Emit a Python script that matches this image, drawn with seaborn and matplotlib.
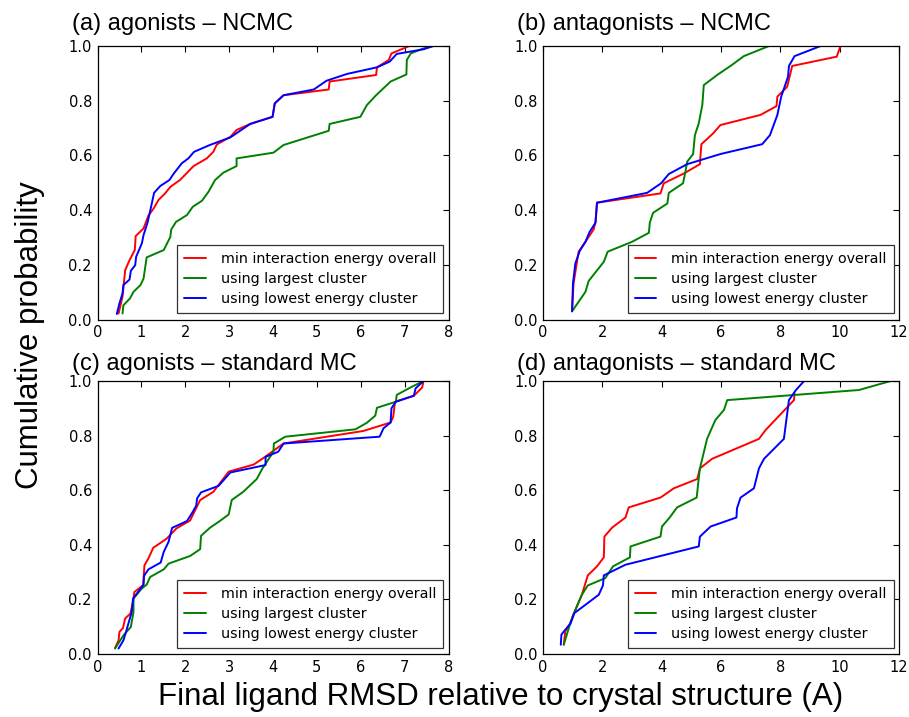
import numpy as np
import pandas as pd
import matplotlib
matplotlib.use("Agg")
import matplotlib.pyplot as plt
import seaborn as sns

# ---------------- data ----------------
series_labels = ["min interaction energy overall", "using largest cluster", "using lowest energy cluster"]
series_colors = ["#ff0000", "#008000", "#0000ff"]

panel_titles = ["(a) agonists \u2013 NCMC", "(b) antagonists \u2013 NCMC",
                "(c) agonists \u2013 standard MC", "(d) antagonists \u2013 standard MC"]
xlims = [8, 12, 8, 12]
x_ticks_small = [0, 1, 2, 3, 4, 5, 6, 7, 8]
x_ticks_large = [0, 2, 4, 6, 8, 10, 12]
y_ticks = [0.0, 0.2, 0.4, 0.6, 0.8, 1.0]

# (a) agonists - NCMC
a_min_x = [0.48, 0.57, 0.63, 0.73, 0.85, 0.87, 1.05, 1.16, 1.28, 1.39, 1.54, 1.66, 1.88, 2.19, 2.49, 2.64, 2.72, 3.03, 3.17, 3.48, 3.99, 4.04, 4.24, 5.27, 5.29, 6.35, 6.37, 6.64, 6.70, 7.11]
a_min_y = [0.022, 0.083, 0.18, 0.217, 0.254, 0.305, 0.333, 0.38, 0.406, 0.437, 0.461, 0.485, 0.51, 0.561, 0.589, 0.613, 0.64, 0.668, 0.693, 0.715, 0.741, 0.79, 0.82, 0.841, 0.87, 0.894, 0.922, 0.949, 0.973, 1.0]
a_big_x = [0.57, 0.59, 0.74, 0.82, 0.98, 1.05, 1.12, 1.51, 1.66, 1.68, 1.79, 2.04, 2.17, 2.38, 2.53, 2.68, 2.87, 3.17, 3.17, 4.01, 4.24, 5.27, 5.29, 5.99, 6.14, 6.35, 6.68, 7.04, 7.05, 7.14, 7.43, 7.62]
a_big_y = [0.022, 0.052, 0.077, 0.101, 0.126, 0.15, 0.227, 0.254, 0.302, 0.329, 0.357, 0.382, 0.412, 0.434, 0.467, 0.51, 0.537, 0.561, 0.589, 0.61, 0.638, 0.69, 0.715, 0.741, 0.784, 0.82, 0.87, 0.896, 0.949, 0.973, 0.991, 1.0]
a_low_x = [0.44, 0.50, 0.57, 0.59, 0.73, 0.76, 0.86, 0.88, 1.01, 1.05, 1.14, 1.18, 1.29, 1.43, 1.64, 1.74, 1.92, 2.07, 2.20, 2.56, 3.03, 3.48, 3.99, 4.04, 4.24, 4.93, 5.22, 5.69, 6.37, 6.66, 6.82, 7.43, 7.66]
a_low_y = [0.02, 0.059, 0.095, 0.126, 0.146, 0.178, 0.199, 0.229, 0.278, 0.309, 0.354, 0.382, 0.463, 0.488, 0.51, 0.534, 0.571, 0.589, 0.613, 0.638, 0.666, 0.715, 0.741, 0.79, 0.82, 0.841, 0.873, 0.898, 0.922, 0.943, 0.971, 0.988, 1.0]

# (b) antagonists - NCMC
b_min_x = [0.98, 1.03, 1.20, 1.43, 1.71, 1.77, 1.82, 3.96, 4.07, 4.75, 5.29, 5.31, 5.34, 5.73, 5.98, 7.33, 7.87, 7.90, 8.23, 8.40, 9.90, 10.03]
b_min_y = [0.03, 0.132, 0.248, 0.284, 0.33, 0.357, 0.427, 0.461, 0.498, 0.534, 0.568, 0.601, 0.641, 0.68, 0.711, 0.748, 0.78, 0.815, 0.851, 0.927, 0.961, 1.0]
b_big_x = [0.98, 1.43, 1.54, 2.05, 2.18, 3.00, 3.57, 3.60, 3.71, 4.19, 4.24, 4.72, 4.80, 4.86, 5.06, 5.12, 5.25, 5.37, 5.42, 5.87, 6.32, 6.77, 7.62]
b_big_y = [0.03, 0.101, 0.141, 0.211, 0.248, 0.284, 0.317, 0.354, 0.39, 0.424, 0.463, 0.498, 0.54, 0.577, 0.605, 0.674, 0.717, 0.784, 0.857, 0.894, 0.927, 0.963, 1.0]
b_low_x = [0.98, 1.01, 1.09, 1.24, 1.43, 1.57, 1.77, 1.82, 3.51, 3.98, 4.24, 4.86, 5.98, 7.39, 7.65, 7.90, 8.03, 8.26, 8.29, 8.48, 9.36]
b_low_y = [0.03, 0.132, 0.205, 0.251, 0.284, 0.32, 0.354, 0.427, 0.463, 0.498, 0.532, 0.568, 0.605, 0.641, 0.674, 0.748, 0.815, 0.888, 0.927, 0.963, 1.0]

# (c) agonists - standard MC
c_min_x = [0.40, 0.48, 0.50, 0.58, 0.63, 0.75, 0.81, 0.84, 1.04, 1.07, 1.16, 1.27, 1.58, 1.80, 2.11, 2.34, 2.64, 2.99, 3.56, 3.79, 4.24, 6.06, 6.68, 6.74, 6.78, 7.21, 7.40, 7.43]
c_min_y = [0.022, 0.05, 0.081, 0.095, 0.13, 0.148, 0.191, 0.227, 0.252, 0.325, 0.35, 0.389, 0.423, 0.46, 0.489, 0.564, 0.594, 0.668, 0.694, 0.719, 0.771, 0.817, 0.848, 0.869, 0.924, 0.946, 0.976, 1.0]
c_big_x = [0.40, 0.59, 0.76, 0.82, 0.82, 1.01, 1.12, 1.20, 1.51, 1.62, 2.11, 2.34, 2.36, 2.56, 2.76, 2.99, 3.06, 3.32, 3.63, 3.75, 4.01, 4.02, 4.28, 5.88, 6.14, 6.33, 6.37, 6.80, 6.82, 7.13, 7.43]
c_big_y = [0.02, 0.068, 0.099, 0.154, 0.203, 0.24, 0.254, 0.282, 0.31, 0.331, 0.359, 0.384, 0.433, 0.462, 0.484, 0.511, 0.564, 0.594, 0.641, 0.677, 0.741, 0.771, 0.796, 0.823, 0.847, 0.873, 0.902, 0.924, 0.949, 0.976, 1.0]
c_low_x = [0.48, 0.59, 0.65, 0.78, 0.81, 1.05, 1.06, 1.16, 1.44, 1.51, 1.62, 1.70, 2.04, 2.15, 2.25, 2.27, 2.36, 2.76, 3.03, 3.83, 3.83, 4.12, 4.24, 6.43, 6.52, 6.68, 6.70, 6.80, 7.21, 7.25, 7.43]
c_low_y = [0.02, 0.05, 0.081, 0.154, 0.203, 0.254, 0.286, 0.31, 0.335, 0.374, 0.411, 0.462, 0.487, 0.515, 0.543, 0.57, 0.592, 0.616, 0.665, 0.692, 0.722, 0.741, 0.771, 0.796, 0.827, 0.848, 0.9, 0.924, 0.946, 0.973, 1.0]

# (d) antagonists - standard MC
d_min_x = [0.70, 0.75, 0.92, 1.03, 1.31, 1.51, 1.82, 2.05, 2.07, 2.33, 2.78, 2.89, 3.96, 4.41, 5.20, 5.29, 5.70, 7.28, 7.50, 8.46, 8.48]
d_min_y = [0.034, 0.083, 0.113, 0.146, 0.217, 0.288, 0.321, 0.354, 0.43, 0.463, 0.5, 0.537, 0.573, 0.607, 0.641, 0.68, 0.715, 0.788, 0.82, 0.93, 0.955]
d_big_x = [0.70, 0.92, 1.03, 1.31, 1.51, 2.10, 2.36, 2.93, 2.95, 3.96, 4.01, 4.27, 4.52, 5.18, 5.25, 5.29, 5.53, 5.81, 6.10, 6.21, 10.65, 11.72]
d_big_y = [0.034, 0.113, 0.146, 0.217, 0.251, 0.278, 0.321, 0.354, 0.394, 0.43, 0.467, 0.5, 0.537, 0.573, 0.644, 0.68, 0.788, 0.857, 0.894, 0.93, 0.967, 1.0]
d_low_x = [0.60, 0.62, 0.72, 0.92, 1.06, 1.88, 2.02, 2.05, 2.78, 5.25, 5.29, 5.65, 6.52, 6.54, 6.66, 7.11, 7.28, 7.45, 8.12, 8.29, 8.52, 8.80]
d_low_y = [0.034, 0.071, 0.085, 0.11, 0.15, 0.217, 0.251, 0.288, 0.327, 0.394, 0.43, 0.467, 0.5, 0.534, 0.573, 0.607, 0.68, 0.715, 0.788, 0.93, 0.966, 1.0]

panels = [
    [(a_min_x, a_min_y), (a_big_x, a_big_y), (a_low_x, a_low_y)],
    [(b_min_x, b_min_y), (b_big_x, b_big_y), (b_low_x, b_low_y)],
    [(c_min_x, c_min_y), (c_big_x, c_big_y), (c_low_x, c_low_y)],
    [(d_min_x, d_min_y), (d_big_x, d_big_y), (d_low_x, d_low_y)],
]

# ---------------- style ----------------
sns.set_style("white")
plt.rcParams.update({
    "font.family": ["DejaVu Sans"],
    "text.color": "black", "axes.labelcolor": "black",
    "xtick.direction": "in", "ytick.direction": "in",
    "xtick.top": True, "ytick.right": True,
    "xtick.major.size": 4.5, "ytick.major.size": 4.5,
    "xtick.major.width": 0.8, "ytick.major.width": 0.8,
    "xtick.color": "black", "ytick.color": "black",
    "xtick.labelcolor": "black", "ytick.labelcolor": "black",
    "xtick.labelsize": 10.5, "ytick.labelsize": 10.5,
    "xtick.major.pad": 4, "ytick.major.pad": 4,
    "axes.edgecolor": "black", "axes.linewidth": 0.9,
})

W, H = 909, 717
fig = plt.figure(figsize=(W / 100, H / 100), dpi=100)

ax_px = [  # left, top, right, bottom in pixels
    (97.5, 46, 448.5, 319.5),
    (543, 46, 899, 319.5),
    (97.5, 381, 448.5, 654),
    (543, 381, 899, 654),
]
title_px = [(72, 30), (517, 30), (72, 370), (517, 370)]

for i in range(4):
    l, t, r, b = ax_px[i]
    ax = fig.add_axes([l / W, 1 - b / H, (r - l) / W, (b - t) / H])
    for j, (xs, ys) in enumerate(panels[i]):
        df = pd.DataFrame({"x": xs, "y": ys})
        sns.lineplot(data=df, x="x", y="y", ax=ax, sort=False, estimator=None,
                     color=series_colors[j], linewidth=1.4, label=series_labels[j])
    ax.set_xlim(0, xlims[i])
    ax.set_ylim(0, 1.0)
    ax.set_xticks(x_ticks_small if xlims[i] == 8 else x_ticks_large)
    ax.set_yticks(y_ticks)
    ax.set_yticklabels([f"{v:.1f}" for v in y_ticks])
    ax.set_xlabel("")
    ax.set_ylabel("")
    for sp in ax.spines.values():
        sp.set_visible(True)
        sp.set_color("black")
    leg = ax.legend(loc="lower right", bbox_to_anchor=(0.985, 0.022), borderaxespad=0,
                    fontsize=10.3, handlelength=1.5, handletextpad=1.05,
                    labelspacing=0.42, borderpad=0.5, fancybox=False, framealpha=1)
    leg.get_frame().set_edgecolor("#333333")
    leg.get_frame().set_linewidth(0.9)
    for txt in leg.get_texts():
        txt.set_color("black")
    tx, ty = title_px[i]
    fig.text(tx / W, 1 - ty / H, panel_titles[i], fontsize=17, family="Liberation Sans",
             color="black", ha="left", va="baseline")

fig.text(30 / W, 1 - 335 / H, "Cumulative probability", rotation=90, fontsize=22.5,
         family="Liberation Sans", color="black", ha="center", va="center")
fig.text(501 / W, 1 - 697 / H, "Final ligand RMSD relative to crystal structure (A)",
         fontsize=22.5, family="Liberation Sans", color="black", ha="center", va="center")

fig.savefig("out.png", dpi=100)
